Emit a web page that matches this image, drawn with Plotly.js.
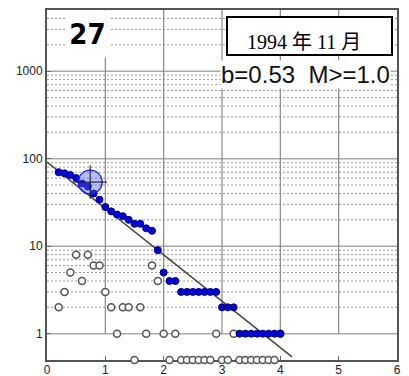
<!DOCTYPE html>
<html>
<head>
<meta charset="utf-8">
<script src="https://cdn.plot.ly/plotly-3.0.1.min.js"></script>
<style>html,body{margin:0;padding:0;background:#fff;}#chart{width:409px;height:376px;}</style>
</head>
<body>
<div id="chart"></div>
<script>
// ---- data ----
const mags = [0.2,0.3,0.4,0.5,0.6,0.7,0.8,0.9,1.0,1.1,1.2,1.3,1.4,1.5,1.6,1.7,1.8,1.9,2.0,2.1,2.2,2.3,2.4,2.5,2.6,2.7,2.8,2.9,3.0,3.1,3.2,3.3,3.4,3.5,3.6,3.7,3.8,3.9,4.0];
const cumulative = [70,68,65,60,52,48,40,34,28,25,23,22,20,18,18,16,15,9,5,4,4,3,3,3,3,3,3,3,2,2,2,1,1,1,1,1,1,1,1];
const frequency = [2,3,5,8,4,8,6,6,3,2,1,2,2,0,2,1,6,4,1,0,1,0,0,0,0,0,0,1,0,0,1,0,0,0,0,0,0,0,1];
const fitX = [0, 4.2];
const fitA = 1.96;
const bValue = 0.53;
const mc = 1.0;
const markX = [0.74];
const markY = [54];
const panelNo = "27";
const periodLabel = "1994 年 11 月";
const xTicks = [0,1,2,3,4,5,6];
const yTicks = [1,10,100,1000];
const zeroFloor = 0.5;

// ---- derived ----
const freqPlot = frequency.map(f => f === 0 ? zeroFloor : f);
const fitY = fitX.map(x => Math.pow(10, fitA - bValue * x));

const traces = [
  {x: fitX, y: fitY, mode: 'lines', line: {color: '#444', width: 1.5}, hoverinfo: 'skip'},
  {x: mags, y: freqPlot, mode: 'markers', cliponaxis: false,
   marker: {symbol: 'circle', size: 7, color: '#fff', line: {color: '#555', width: 1.5}}},
  {x: mags, y: cumulative, mode: 'markers', cliponaxis: false,
   marker: {symbol: 'circle', size: 7, color: '#0000ee', line: {color: '#000070', width: 1}}},
  {x: markX, y: markY, mode: 'markers',
   marker: {symbol: 'circle', size: 24, color: 'rgba(70,100,235,0.42)', line: {color: '#1a1aff', width: 1.3}}},
  {x: markX, y: markY, mode: 'markers',
   marker: {symbol: 'cross-thin', size: 24, line: {color: '#111', width: 1}}}
];

const shapes = [];
// minor dotted gridlines (above y=1 only)
[1,10,100,1000].forEach(dec => {
  for (let k = 2; k <= 9; k++) {
    const v = dec * k;
    if (v >= 5000) break;
    shapes.push({type: 'line', xref: 'x', yref: 'y', x0: 0, x1: 6, y0: v, y1: v, layer: 'below',
      line: {color: '#999', width: 1, dash: '2px,2px'}});
  }
});
// major horizontal
yTicks.forEach(v => shapes.push({type: 'line', xref: 'x', yref: 'y', x0: 0, x1: 6, y0: v, y1: v, layer: 'below',
  line: {color: '#aaa', width: 1.5}}));
// vertical
[1,2,3,4,5].forEach(v => shapes.push({type: 'line', xref: 'x', yref: 'y', x0: v, x1: v, y0: 1, y1: 5000, layer: 'below',
  line: {color: '#888', width: 1.2}}));
// date box
shapes.push({type: 'rect', xref: 'paper', yref: 'paper',
  x0: (227-47)/350, x1: (392-47)/350, y0: (360-55)/350, y1: (360-17)/350, layer: 'above',
  fillcolor: '#fff', line: {color: '#000', width: 2}});

const annotations = [
  {xref: 'paper', yref: 'paper', x: (87-47)/350, y: (360-34)/350, xanchor: 'center', yanchor: 'middle',
   text: '<b>' + panelNo + '</b>', showarrow: false,
   bgcolor: '#fff', width: 43, height: 46, borderpad: 0,
   font: {family: 'DejaVu Sans Condensed, Liberation Sans Narrow, DejaVu Sans', size: 29, color: '#000',
          stretch: 'extra-condensed'}},
  {xref: 'paper', yref: 'paper', x: (304-47)/350, y: (360-42)/350, xanchor: 'center', yanchor: 'middle',
   text: periodLabel, showarrow: false,
   font: {family: 'Liberation Serif, Noto Sans CJK JP, serif', size: 20, color: '#000'}},
  {xref: 'paper', yref: 'paper', x: (305-47)/350, y: (360-74)/350, xanchor: 'center', yanchor: 'middle',
   text: 'b=' + bValue.toFixed(2) + '\u00a0\u00a0M>=' + mc.toFixed(1), showarrow: false,
   bgcolor: '#fff', borderpad: 0,
   font: {family: 'Liberation Sans, Arial, sans-serif', size: 24, color: '#111'}}
];

const layout = {
  width: 409, height: 376,
  margin: {l: 47, r: 12, t: 10, b: 16},
  paper_bgcolor: '#fff', plot_bgcolor: '#fff',
  showlegend: false,
  xaxis: {range: [0, 6], tickvals: xTicks, ticktext: xTicks.map(String),
    showgrid: false, zeroline: false, showline: true, mirror: true, linecolor: '#555', linewidth: 2,
    ticks: 'inside', ticklen: 4, tickcolor: '#666', tickwidth: 1, layer: 'below traces',
    ticklabelstandoff: -2,
    tickfont: {family: 'Liberation Sans, Arial, sans-serif', size: 12, color: '#222'}},
  yaxis: {type: 'log', range: [Math.log10(0.5), Math.log10(5000)], tickvals: yTicks, ticktext: yTicks.map(String),
    showgrid: false, zeroline: false, showline: true, mirror: true, linecolor: '#555', linewidth: 2,
    ticks: 'inside', ticklen: 4, tickcolor: '#666', tickwidth: 1, layer: 'below traces',
    tickfont: {family: 'Liberation Sans, Arial, sans-serif', size: 12, color: '#222'}},
  shapes: shapes,
  annotations: annotations
};

Plotly.newPlot('chart', traces, layout, {displayModeBar: false, staticPlot: true});
</script>
</body>
</html>
